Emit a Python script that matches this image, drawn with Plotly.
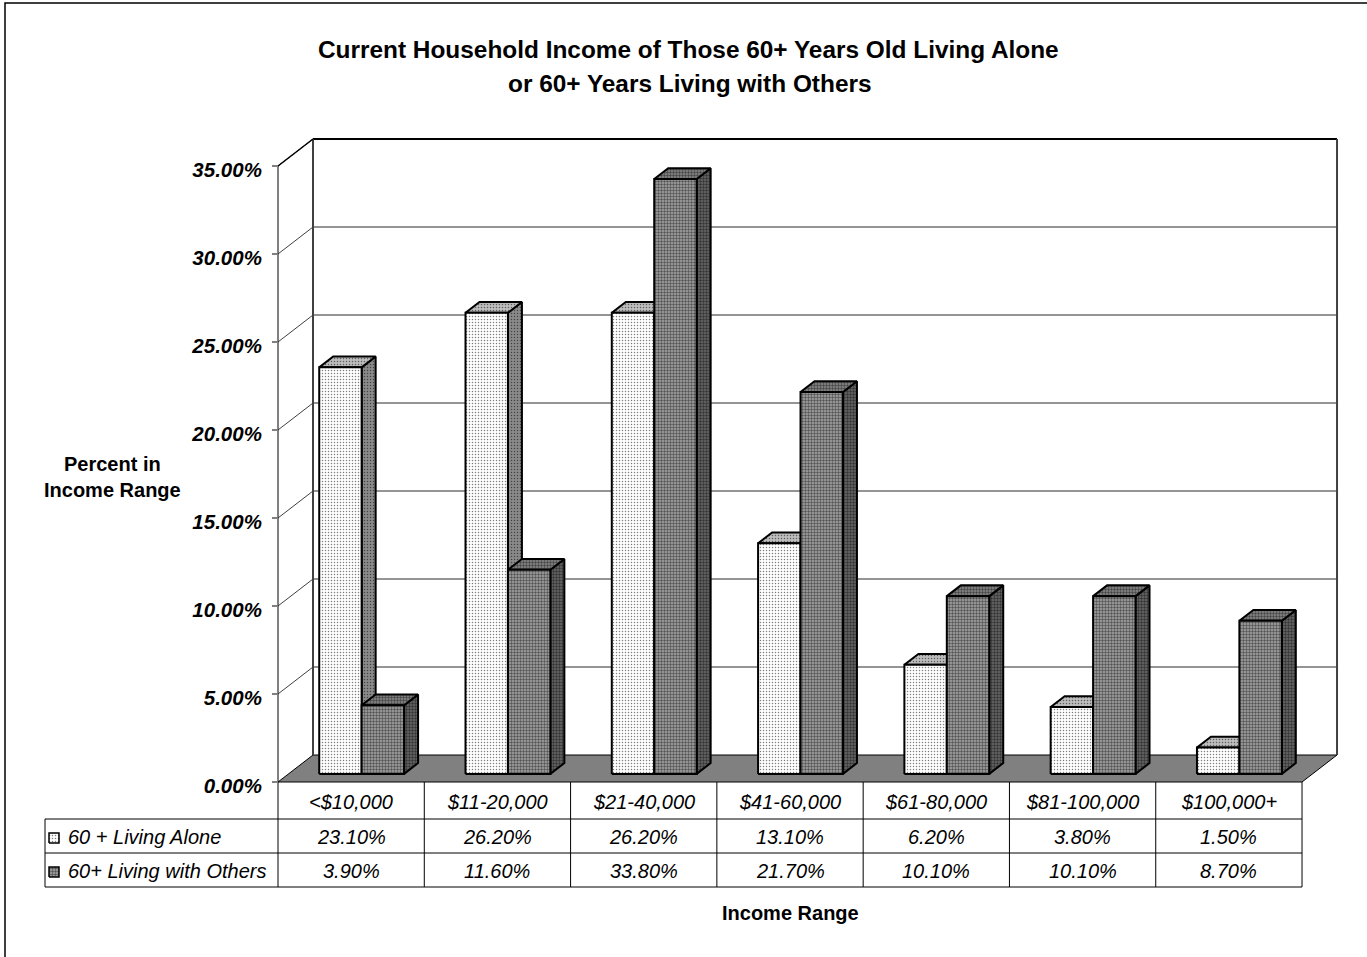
import plotly.graph_objects as go

# ---- data -------------------------------------------------------------
categories = ["<$10,000", "$11-20,000", "$21-40,000", "$41-60,000",
              "$61-80,000", "$81-100,000", "$100,000+"]
living_alone = [23.10, 26.20, 26.20, 13.10, 6.20, 3.80, 1.50]
living_with_others = [3.90, 11.60, 33.80, 21.70, 10.10, 10.10, 8.70]
series_names = ["60 + Living Alone", "60+ Living with Others"]
y_ticks = [0, 5, 10, 15, 20, 25, 30, 35]

# ---- canvas / scale ---------------------------------------------------
W, H = 1367, 957
CAT_PX = 146.29      # pixels per category column
PCT_PX = 17.6        # pixels per percentage point
X0_PX = 278          # left edge of the first column (front plane)
Y0_PX = 782          # zero line on the front plane
DX = 35 / CAT_PX     # oblique depth offset (x) of the back wall
DY = 27 / PCT_PX     # oblique depth offset (y) of the back wall
BAR_D0, BAR_D1 = 0.3, 0.7   # bar front / back planes as fraction of depth
GAP = 0.21           # outer gap inside a column
BAR_W = 0.29         # bar width in category units
N = len(categories)

x_range = [-0.5 - X0_PX / CAT_PX, -0.5 + (W - X0_PX) / CAT_PX]
y_range = [-(H - Y0_PX) / PCT_PX, Y0_PX / PCT_PX]


def px_x(px):
    return -0.5 + (px - X0_PX) / CAT_PX


def px_y(py):
    return (Y0_PX - py) / PCT_PX


FONT = "Liberation Sans, Arial, Helvetica, sans-serif"

fig = go.Figure()


def poly(xs, ys, color, pattern=None, line_color="black", width=2):
    fig.add_trace(go.Scatter(
        x=list(xs) + [xs[0]], y=list(ys) + [ys[0]], mode="lines",
        fill="toself", fillcolor=color, fillpattern=pattern,
        line=dict(color=line_color, width=width),
        hoverinfo="skip", showlegend=False))


def seg(xs, ys, color, width=1):
    fig.add_trace(go.Scatter(
        x=xs, y=ys, mode="lines", line=dict(color=color, width=width),
        hoverinfo="skip", showlegend=False))


# ---- floor ------------------------------------------------------------
left, right = -0.5, N - 0.5
poly([left, right, right + DX, left + DX], [0, 0, DY, DY], "#808080",
     line_color="black", width=1)

# ---- back wall gridlines and side-wall diagonals ----------------------
for t in y_ticks[1:]:
    color = "black" if t == y_ticks[-1] else "#707070"
    w = 2 if t == y_ticks[-1] else 1.5
    seg([left + DX, right + DX], [t + DY, t + DY], color, w)
    seg([left, left + DX], [t, t + DY], "#404040", 1)

# wall edges
top = y_ticks[-1]
seg([left + DX, left + DX], [DY, top + DY], "#404040", 2)
seg([right + DX, right + DX], [DY, top + DY], "#404040", 2)


def dots(bg, size, solidity):
    return dict(shape=".", bgcolor=bg, fgcolor="black", size=size, solidity=solidity)


# ---- 3D bars ----------------------------------------------------------
styles = [
    dict(front=dots("white", 3, 0.2), top=dots("#bdbdbd", 3, 0.2),
         side=dots("#8a8a8a", 3, 0.2), fill=["white", "#bdbdbd", "#8a8a8a"]),
    dict(front=dots("#a8a8a8", 3, 0.5), top=dots("#8c8c8c", 3, 0.5),
         side=dots("#6a6a6a", 3, 0.5), fill=["#a8a8a8", "#8c8c8c", "#6a6a6a"]),
]

for i in range(N):
    for s, values in enumerate([living_alone, living_with_others]):
        v = values[i]
        st = styles[s]
        x0 = i - 0.5 + GAP + s * BAR_W
        x1 = x0 + BAR_W
        fx0, fx1 = x0 + BAR_D0 * DX, x1 + BAR_D0 * DX
        bx0, bx1 = x0 + BAR_D1 * DX, x1 + BAR_D1 * DX
        fy, by = BAR_D0 * DY, BAR_D1 * DY
        # side face
        poly([fx1, bx1, bx1, fx1], [fy, by, v + by, v + fy],
             st["fill"][2], st["side"])
        # top face
        poly([fx0, fx1, bx1, bx0], [v + fy, v + fy, v + by, v + by],
             st["fill"][1], st["top"])
        # front face
        poly([fx0, fx1, fx1, fx0], [fy, fy, v + fy, v + fy],
             st["fill"][0], st["front"])

# ---- front axis line --------------------------------------------------
seg([left, left], [0, top], "black", 1)
seg([left, left + DX], [top, top + DY], "black", 1.5)

# ---- data table -------------------------------------------------------
row_px = [782, 819, 853, 887]
tbl_left = px_x(45)
for py in row_px[1:]:
    seg([tbl_left, right], [px_y(py), px_y(py)], "black", 1)
seg([tbl_left, tbl_left], [px_y(row_px[1]), px_y(row_px[3])], "black", 1)
for k in range(N + 1):
    xk = -0.5 + k
    seg([xk, xk], [px_y(row_px[0]), px_y(row_px[3])], "black", 1)

# legend keys inside the table
for s in range(2):
    cy = (row_px[s + 1] + row_px[s + 2]) / 2 + 2
    kx0, kx1 = px_x(49), px_x(59)
    ky0, ky1 = px_y(cy + 5), px_y(cy - 5)
    poly([kx0, kx1, kx1, kx0], [ky0, ky0, ky1, ky1],
         styles[s]["fill"][0], styles[s]["front"], width=1.5)

annotations = []
cell_font = dict(family=FONT, size=20, color="black", style="italic")
cat_y = px_y((row_px[0] + row_px[1]) / 2 + 1)
for i, c in enumerate(categories):
    annotations.append(dict(x=i, y=cat_y, text=c, showarrow=False,
                            xanchor="center", yanchor="middle", font=cell_font))
for s, values in enumerate([living_alone, living_with_others]):
    ry = px_y((row_px[s + 1] + row_px[s + 2]) / 2 + 1)
    annotations.append(dict(x=px_x(66), y=ry, text=series_names[s], showarrow=False,
                            xanchor="left", yanchor="middle", font=cell_font))
    for i, v in enumerate(values):
        annotations.append(dict(x=i, y=ry, text=f"{v:.2f}%", showarrow=False,
                                xanchor="center", yanchor="middle", font=cell_font))

# ---- titles -----------------------------------------------------------
title_font = dict(family=FONT, size=24.4, color="black", weight="bold")
annotations.append(dict(x=688 / W, y=1 - 50 / H, xref="paper", yref="paper",
                        text="Current Household Income of Those 60+ Years Old Living Alone",
                        showarrow=False, xanchor="center", yanchor="middle", font=title_font))
annotations.append(dict(x=690 / W, y=1 - 83 / H, xref="paper", yref="paper",
                        text="or 60+ Years Living with Others",
                        showarrow=False, xanchor="center", yanchor="middle", font=title_font))
axis_title_font = dict(family=FONT, size=20, color="black", weight="bold")
annotations.append(dict(x=112 / W, y=1 - 477 / H, xref="paper", yref="paper",
                        text="Percent in<br>Income Range", align="center",
                        showarrow=False, xanchor="center", yanchor="middle",
                        font=axis_title_font))
annotations.append(dict(x=790 / W, y=1 - 913 / H, xref="paper", yref="paper",
                        text="Income Range", showarrow=False,
                        xanchor="center", yanchor="middle", font=axis_title_font))

# ---- outer frame ------------------------------------------------------
shapes = [dict(type="rect", xref="paper", yref="paper",
               x0=5 / W, x1=1.2, y0=-0.2, y1=1 - 3 / H,
               line=dict(color="black", width=1.5), fillcolor="rgba(0,0,0,0)")]

fig.update_layout(
    width=W, height=H,
    margin=dict(l=0, r=0, t=0, b=0),
    paper_bgcolor="white", plot_bgcolor="white",
    showlegend=False,
    annotations=annotations,
    shapes=shapes,
    xaxis=dict(visible=False, range=x_range, fixedrange=True),
    yaxis=dict(range=y_range, anchor="free", position=X0_PX / W,
               showline=False, showgrid=False, zeroline=False,
               ticks="outside", ticklen=6, tickcolor="#808080", tickwidth=1.5,
               tickvals=y_ticks, ticktext=[f"{t:.2f}%" for t in y_ticks],
               tickfont=dict(family=FONT, size=20.5, color="black",
                             weight="bold", style="italic"),
               ticklabelstandoff=6, ticklabelshift=4,
               automargin=False, fixedrange=True),
)

fig.write_html("out.html")
